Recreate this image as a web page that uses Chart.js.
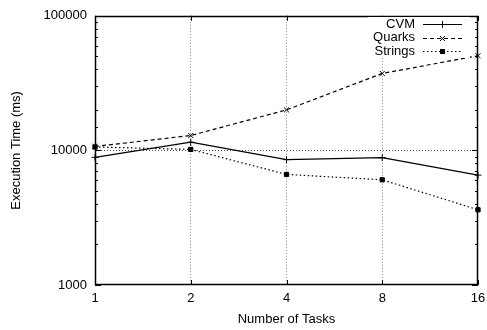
<!DOCTYPE html>
<html>
<head>
<meta charset="utf-8">
<script src="https://cdn.jsdelivr.net/npm/chart.js@4/dist/chart.umd.min.js"></script>
<style>
  html, body { margin: 0; padding: 0; background: #fff; }
  #wrap { width: 487px; height: 330px; }
</style>
</head>
<body>
<div id="wrap"><canvas id="c" width="487" height="330"></canvas></div>
<script>
/* ---------- Data ---------- */
const tasks = ["1", "2", "4", "8", "16"];
const cvm = [8880, 11500, 8540, 8840, 6550];
const quarks = [10700, 12900, 20000, 37300, 50500];
const strings = [10600, 10170, 6630, 6050, 3620];
const yTicks = [1000, 10000, 100000];

const FONT = "'Liberation Sans', Arial, Helvetica, sans-serif";

/* ---------- Helpers ---------- */
function marker(ctx, kind, x, y) {
  ctx.save();
  ctx.setLineDash([]);
  ctx.lineWidth = 1;
  ctx.strokeStyle = "#000";
  ctx.fillStyle = "#000";
  ctx.beginPath();
  if (kind === "plus") {
    ctx.moveTo(x - 3.5, y); ctx.lineTo(x + 3.5, y);
    ctx.moveTo(x, y - 3.5); ctx.lineTo(x, y + 3.5);
    ctx.stroke();
  } else if (kind === "x") {
    ctx.moveTo(x - 2.5, y - 2.5); ctx.lineTo(x + 2.5, y + 2.5);
    ctx.moveTo(x - 2.5, y + 2.5); ctx.lineTo(x + 2.5, y - 2.5);
    ctx.stroke();
  } else {
    ctx.fillRect(x - 2.5, y - 2.5, 5, 5);
  }
  ctx.restore();
}

const series = [
  { label: "CVM", data: cvm, dash: [], mark: "plus", style: "cross" },
  { label: "Quarks", data: quarks, dash: [4, 3], mark: "x", style: "crossRot" },
  { label: "Strings", data: strings, dash: [1.5, 2.5], mark: "sq", style: "rect" }
];

/* ---------- Frame, inward ticks, key ---------- */
const frame = {
  id: "frame",
  afterDraw(chart) {
    const { ctx, chartArea: a, scales: { x, y } } = chart;
    ctx.save();
    ctx.strokeStyle = "#000";
    ctx.lineWidth = 1;
    ctx.setLineDash([]);
    ctx.beginPath();
    // y ticks (major + minor) on both sides
    y.ticks.forEach(t => {
      const py = Math.round(y.getPixelForValue(t.value)) + 0.5;
      const len = yTicks.includes(t.value) ? 6 : 3;
      ctx.moveTo(a.left, py); ctx.lineTo(a.left + len, py);
      ctx.moveTo(a.right, py); ctx.lineTo(a.right - len, py);
    });
    // x ticks top and bottom
    tasks.forEach((_, i) => {
      const px = Math.round(x.getPixelForValue(i)) + 0.5;
      ctx.moveTo(px, a.top); ctx.lineTo(px, a.top + 5);
      ctx.moveTo(px, a.bottom); ctx.lineTo(px, a.bottom - 5);
    });
    ctx.stroke();
    ctx.lineWidth = 1.5;
    ctx.strokeRect(Math.round(a.left) + 0.5, Math.round(a.top) + 0.5,
      Math.round(a.right - a.left) - 1, Math.round(a.bottom - a.top) - 1);

    // key
    ctx.fillStyle = "#fff";
    ctx.fillRect(368, 17, 102, 41);
    ctx.font = "13px " + FONT;
    ctx.textAlign = "right";
    ctx.textBaseline = "middle";
    series.forEach((s, i) => {
      const yy = 24 + i * 13.5;
      ctx.fillStyle = "#000";
      ctx.fillText(s.label, 415, yy);
      ctx.save();
      ctx.lineWidth = 1;
      ctx.setLineDash(s.dash);
      ctx.beginPath();
      ctx.moveTo(423, Math.round(yy) + 0.5);
      ctx.lineTo(462, Math.round(yy) + 0.5);
      ctx.stroke();
      ctx.restore();
      marker(ctx, s.mark, 442.5, Math.round(yy) + 0.5);
    });
    ctx.restore();
  }
};

/* ---------- Chart ---------- */
new Chart(document.getElementById("c"), {
  type: "line",
  data: {
    labels: tasks,
    datasets: series.map(s => ({
      label: s.label,
      data: s.data,
      borderColor: "#000",
      backgroundColor: "#000",
      borderWidth: 1.2,
      borderDash: s.dash,
      pointStyle: s.style,
      pointRadius: s.style === "rect" ? 3 : 3.5,
      pointBorderWidth: 1,
      tension: 0,
      fill: false,
      clip: false
    }))
  },
  options: {
    responsive: false,
    animation: false,
    layout: { padding: { left: 0, right: 0, top: 13, bottom: 0 } },
    plugins: { legend: { display: false }, tooltip: { enabled: false } },
    scales: {
      x: {
        type: "category",
        offset: false,
        afterFit: s => { s.height = 45; s.paddingRight = 9; s.paddingLeft = 0; },
        grid: {
          drawTicks: false,
          color: c => (c.index > 0 && c.index < tasks.length - 1) ? "#888" : "transparent",
          lineWidth: 1
        },
        border: { display: false, dash: [1, 2] },
        ticks: { color: "#000", font: { family: FONT, size: 13 }, padding: 6, maxRotation: 0 },
        title: { display: true, text: "Number of Tasks", color: "#000",
                 font: { family: FONT, size: 13 }, padding: { bottom: 3 } }
      },
      y: {
        type: "logarithmic",
        min: 1000,
        max: 100000,
        afterFit: s => { s.width = 95; },
        grid: {
          drawTicks: false,
          color: c => (c.tick && c.tick.value === 10000) ? "#555" : "transparent",
          lineWidth: 1
        },
        border: { display: false, dash: [1, 2] },
        ticks: {
          autoSkip: false,
          color: "#000",
          font: { family: FONT, size: 13 },
          padding: 8,
          callback: v => yTicks.includes(v) ? String(v) : ""
        },
        title: { display: true, text: "Execution Time (ms)", color: "#000",
                 font: { family: FONT, size: 13 }, padding: { top: 9 } }
      }
    }
  },
  plugins: [frame]
});
</script>
</body>
</html>
